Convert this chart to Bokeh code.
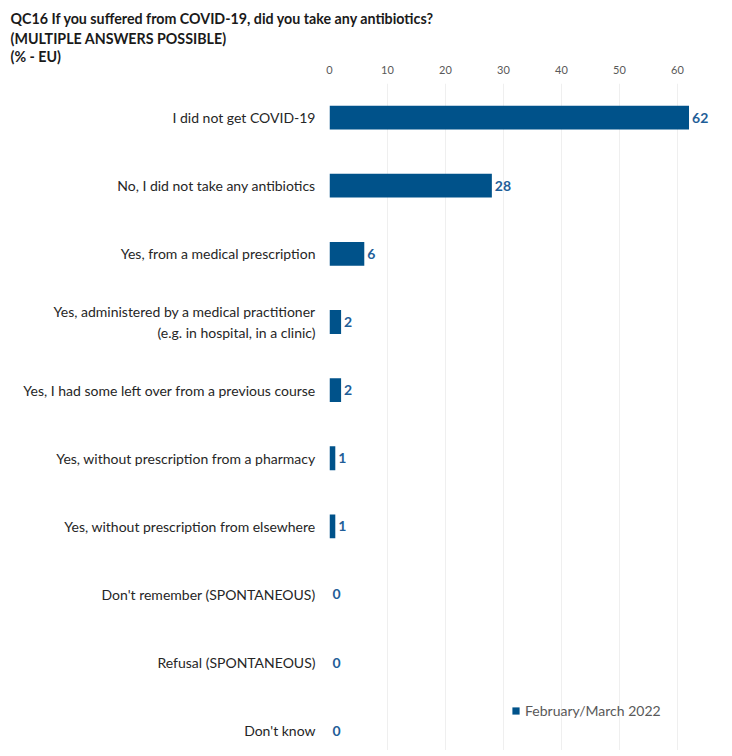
from bokeh.plotting import figure
from bokeh.models import Range1d, FixedTicker, ColumnDataSource, Title
from bokeh.core.properties import value
from bokeh.embed import file_html
from bokeh.resources import INLINE

categories = [
    "I did not get COVID-19",
    "No, I did not take any antibiotics",
    "Yes, from a medical prescription",
    "Yes, administered by a medical practitioner\n(e.g. in hospital, in a clinic)",
    "Yes, I had some left over from a previous course",
    "Yes, without prescription from a pharmacy",
    "Yes, without prescription from elsewhere",
    "Don't remember (SPONTANEOUS)",
    "Refusal (SPONTANEOUS)",
    "Don't know",
]
values = [62, 28, 6, 2, 2, 1, 1, 0, 0, 0]
series_name = "February/March 2022"
x_ticks = [0, 10, 20, 30, 40, 50, 60]
title_lines = [
    "QC16 If you suffered from COVID-19, did you take any antibiotics?",
    "(MULTIPLE ANSWERS POSSIBLE)",
    "(% - EU)",
]
title_standoffs = [1, 1, -4]

FONT = "Lato"
BAR = "#00528A"
LBL = "#1F5E98"

positions = list(range(len(categories)))
src = ColumnDataSource(dict(y=positions, v=values, lbl=[str(v) for v in values]))

p = figure(width=732, height=750, output_backend="svg", toolbar_location=None,
           x_range=Range1d(0, 69.5), y_range=Range1d(9.29, -0.5),
           x_axis_location="above",
           min_border_left=329, min_border_right=0, min_border_bottom=0, min_border_top=0)
p.outline_line_color = None
p.background_fill_color = "white"

p.hbar(y="y", right="v", left=0, height=0.35, source=src, fill_color=BAR,
       line_color=None, legend_label=series_name)
p.text(x="v", y="y", text="lbl", source=src, x_offset=3, text_baseline="middle",
       text_align="left", text_font=value(FONT), text_font_style="bold",
       text_font_size="14px", text_color=LBL)

xa = p.xaxis[0]
xa.ticker = FixedTicker(ticks=x_ticks)
xa.axis_line_color = None
xa.major_tick_line_color = None
xa.minor_tick_line_color = None
xa.major_label_text_font = FONT
xa.major_label_text_font_size = "11px"
xa.major_label_text_color = "#595959"
xa.major_label_standoff = 4

ya = p.yaxis[0]
ya.ticker = FixedTicker(ticks=positions)
ya.major_label_overrides = {i: c for i, c in zip(positions, categories)}
ya.axis_line_color = None
ya.major_tick_line_color = None
ya.minor_tick_line_color = None
ya.major_label_text_font = FONT
ya.major_label_text_font_size = "14px"
ya.major_label_text_color = "#262626"
ya.major_label_standoff = 8

p.xgrid.ticker = FixedTicker(ticks=x_ticks)
p.xgrid.grid_line_color = "#EFEFEF"
p.ygrid.grid_line_color = None

for t, s in reversed(list(zip(title_lines, title_standoffs))):
    p.add_layout(Title(text=t, align="left", text_font=FONT, text_font_style="bold",
                       text_font_size="14.25px", text_color="#1a1a1a", offset=-319,
                       standoff=s), "above")
# small blank spacer at the very top
p.add_layout(Title(text=" ", text_font_size="4px", standoff=0), "above")

lg = p.legend[0]
lg.location = (182, 31)
lg.border_line_color = None
lg.background_fill_alpha = 0
lg.label_text_font = FONT
lg.label_text_font_size = "14px"
lg.label_text_color = "#595959"
lg.glyph_width = 9
lg.glyph_height = 9
lg.padding = 0
lg.margin = 0

open("out.html", "w").write(file_html(p, INLINE))
